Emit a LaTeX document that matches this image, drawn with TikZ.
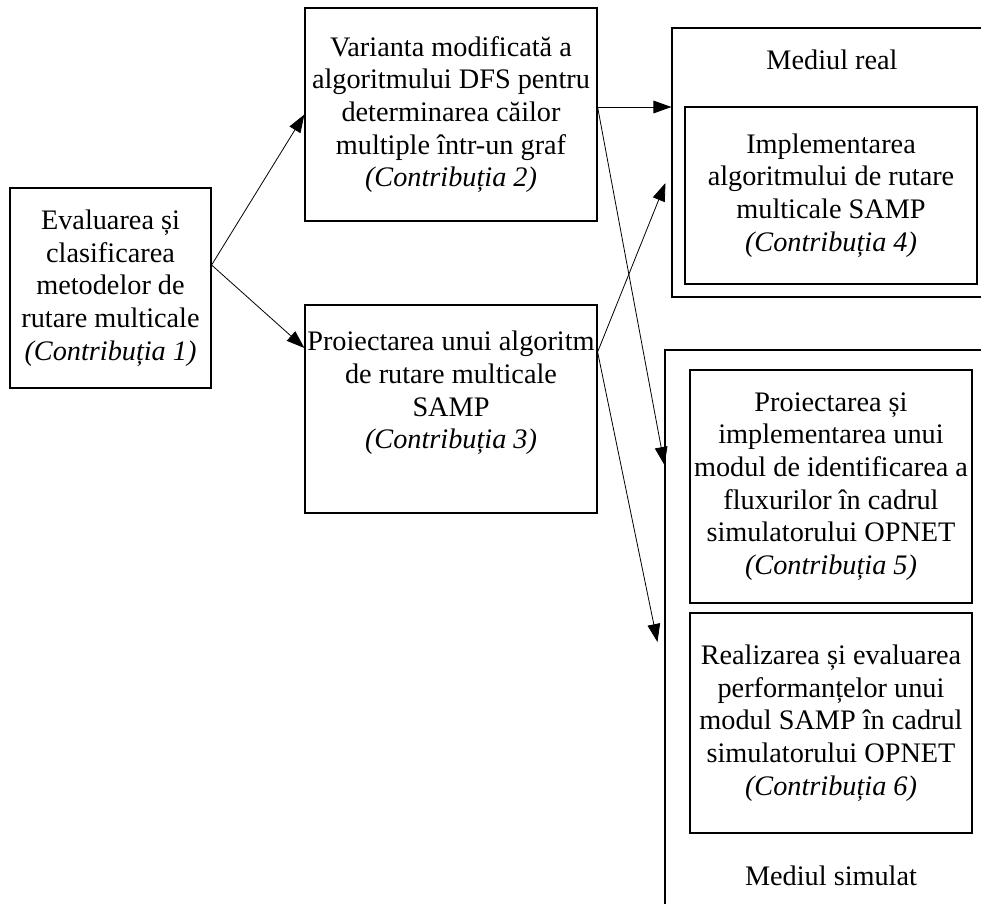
\documentclass[tikz,border=0pt]{standalone}
\usepackage{fontspec}
\setmainfont{Liberation Serif}
\usetikzlibrary{arrows.meta,calc}

\begin{document}
\begin{tikzpicture}[x=0.75pt, y=-0.75pt,
  box/.style={rectangle, draw, line width=0.9pt, inner sep=0pt, align=center,
    font=\fontsize{21.2}{24.5}\selectfont},
  frame/.style={rectangle, draw, line width=0.8pt, inner sep=0pt},
  lbl/.style={font=\fontsize{21.2}{24.5}\selectfont},
  arrow/.style={-{Triangle[length=13.5pt,width=9.5pt]}, line width=0.6pt}]
  \useasboundingbox (0,0) rectangle (981,903);
  \clip (0,0) rectangle (981,903);
  % environments
  \node[frame, minimum width=242.25pt, minimum height=201.75pt] (real) at (833.5,162.5) {};
  \node[frame, minimum width=247.5pt, minimum height=423.75pt] (sim) at (830,632.5) {};
  \node[lbl] (lreal) at (832,60) {Mediul real};
  \node[lbl] (lsim) at (831,876) {Mediul simulat};
  % contributions
  \node[box, minimum width=150.75pt, minimum height=150pt] (c1) at (110.5,288) {Evaluarea și\\clasificarea\\metodelor de\\rutare multicale\\\textit{(Contribuția 1)}};
  \node[box, minimum width=219pt, minimum height=159.75pt] (c2) at (451,114.5) {Varianta modificată a\\algoritmului DFS pentru\\determinarea căilor\\multiple într-un graf\\\textit{(Contribuția 2)}};
  \node[box, minimum width=219pt, minimum height=156pt] (c3) at (451,409) {Proiectarea unui algoritm\\de rutare multicale\\SAMP\\\textit{(Contribuția 3)}\\[4pt]};
  \node[box, minimum width=219pt, minimum height=132.75pt] (c4) at (831,195.5) {Implementarea\\algoritmului de rutare\\multicale SAMP\\\textit{(Contribuția 4)}};
  \node[box, minimum width=211.5pt, minimum height=174.75pt] (c5) at (831,486.5) {Proiectarea și\\implementarea unui\\modul de identificarea a\\fluxurilor în cadrul\\simulatorului OPNET\\\textit{(Contribuția 5)}};
  \node[box, minimum width=211.5pt, minimum height=165pt] (c6) at (831,723) {Realizarea și evaluarea\\performanțelor unui\\modul SAMP în cadrul\\simulatorului OPNET\\\textit{(Contribuția 6)}};
  % connection points
  \coordinate (o1) at ($(c1.east)+(0,-23)$);
  \coordinate (o2) at ($(c2.east)+(0,-7.5)$);
  \coordinate (o3) at ($(c3.east)+(0,-57)$);
  \coordinate (r1) at ($(real.west)+(0,-55.5)$);
  \coordinate (r2) at ($(real.west)+(-6,20.5)$);
  \coordinate (s1) at ($(sim.west)+(0,-167.5)$);
  \coordinate (s2) at ($(sim.west)+(-7,9.5)$);
  \draw[arrow] (o1) -- (c2.west);
  \draw[arrow] (o1) -- ($(c3.west)+(0,-61)$);
  \draw[arrow] (o2) -- (r1);
  \draw[arrow] (o2) -- (s1);
  \draw[arrow] (o3) -- (r2);
  \draw[arrow] (o3) -- (s2);
\end{tikzpicture}
\end{document}
